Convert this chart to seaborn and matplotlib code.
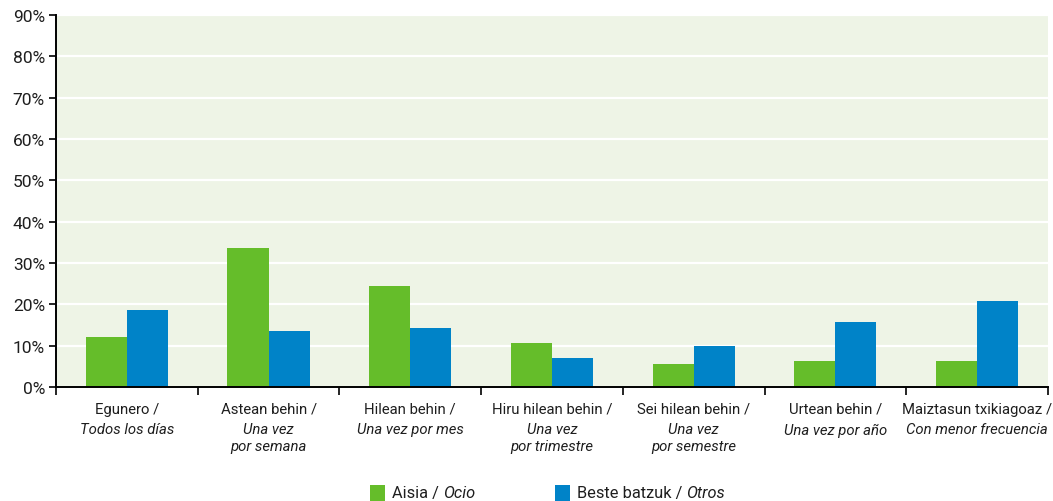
import matplotlib
matplotlib.use("Agg")
import matplotlib.pyplot as plt
import matplotlib.transforms as mtransforms
import seaborn as sns
import pandas as pd

# Frequency categories: Basque label / Spanish label (italic)
cat_eu = ["Egunero /", "Astean behin /", "Hilean behin /", "Hiru hilean behin /",
          "Sei hilean behin /", "Urtean behin /", "Maiztasun txikiagoaz /"]
cat_es = ["Todos los días", "Una vez\npor semana", "Una vez por mes", "Una vez\npor trimestre",
          "Una vez\npor semestre", "Una vez por año", "Con menor frecuencia"]

series_eu = ["Aisia / ", "Beste batzuk / "]
series_es = ["Ocio", "Otros"]

aisia = [12.1, 33.6, 24.4, 10.6, 5.6, 6.3, 6.3]
beste = [18.6, 13.5, 14.3, 7.0, 9.9, 15.7, 20.8]

y_ticks = [0, 10, 20, 30, 40, 50, 60, 70, 80, 90]

colors = ["#65BD2A", "#0083C8"]

df = pd.DataFrame({
    "cat": cat_eu * 2,
    "serie": [series_es[0]] * len(cat_eu) + [series_es[1]] * len(cat_eu),
    "value": aisia + beste,
})

sns.set_theme(style="white")
plt.rcParams["font.family"] = ["Roboto", "DejaVu Sans"]
text_color = "#1e1e1e"
fs = 10.7

fig = plt.figure(figsize=(10.53, 5.02), dpi=100)
ax = fig.add_axes([0.0532, 0.2271, 0.9420, 0.7410])
ax.set_facecolor("#EEF4E6")

sns.barplot(data=df, x="cat", y="value", hue="serie", palette=colors,
            width=0.58, dodge=True, ax=ax, legend=False, saturation=1)
for p in ax.patches:
    p.set_edgecolor("none")

ax.set_ylim(0, 90)
ax.set_xlim(-0.5, len(cat_eu) - 0.5)
ax.set_yticks(y_ticks)
ax.set_yticklabels([f"{v}%" for v in y_ticks], fontsize=12.5, color=text_color)
ax.yaxis.grid(True, color="white", linewidth=1.6)
ax.set_axisbelow(True)
ax.set_xlabel("")
ax.set_ylabel("")

ax.set_xticks([i - 0.5 for i in range(len(cat_eu) + 1)])
ax.set_xticklabels([])
ax.tick_params(axis="x", direction="out", length=6, width=1.2, color="black", bottom=True)
ax.tick_params(axis="y", direction="out", length=5, width=1.2, color="black", left=True, pad=3)

for s in ["top", "right"]:
    ax.spines[s].set_visible(False)
for s in ["left", "bottom"]:
    ax.spines[s].set_color("black")
    ax.spines[s].set_linewidth(1.4)

# Two-style category labels under each group
trans = mtransforms.blended_transform_factory(ax.transData, ax.transAxes)
for i, (eu, es) in enumerate(zip(cat_eu, cat_es)):
    ax.annotate(eu, xy=(i, 0), xycoords=trans, xytext=(0, -10.5), textcoords="offset points",
                ha="center", va="top", fontsize=fs, color=text_color)
    ax.annotate(es, xy=(i, 0), xycoords=trans, xytext=(0, -25.5), textcoords="offset points",
                ha="center", va="top", fontsize=fs, color=text_color, style="italic",
                linespacing=1.2)

# Legend at the bottom: square marker, upright Basque text, italic Spanish text
legend_items = [(0.3515, 0), (0.527, 1)]
for x0, k in legend_items:
    fig.patches.append(plt.Rectangle(
        (x0, 0.0), 0.0145, 0.031, transform=fig.transFigure, facecolor=colors[k],
        edgecolor="none"))
    t1 = fig.text(x0 + 0.021, 0.002, series_eu[k], fontsize=11.8, color=text_color,
                  ha="left", va="bottom")
    fig.canvas.draw()
    bb = t1.get_window_extent()
    fig.text(bb.x1 / fig.bbox.width, 0.002, series_es[k], fontsize=11.8, color=text_color,
             ha="left", va="bottom", style="italic")

fig.savefig("out.png", dpi=100)
